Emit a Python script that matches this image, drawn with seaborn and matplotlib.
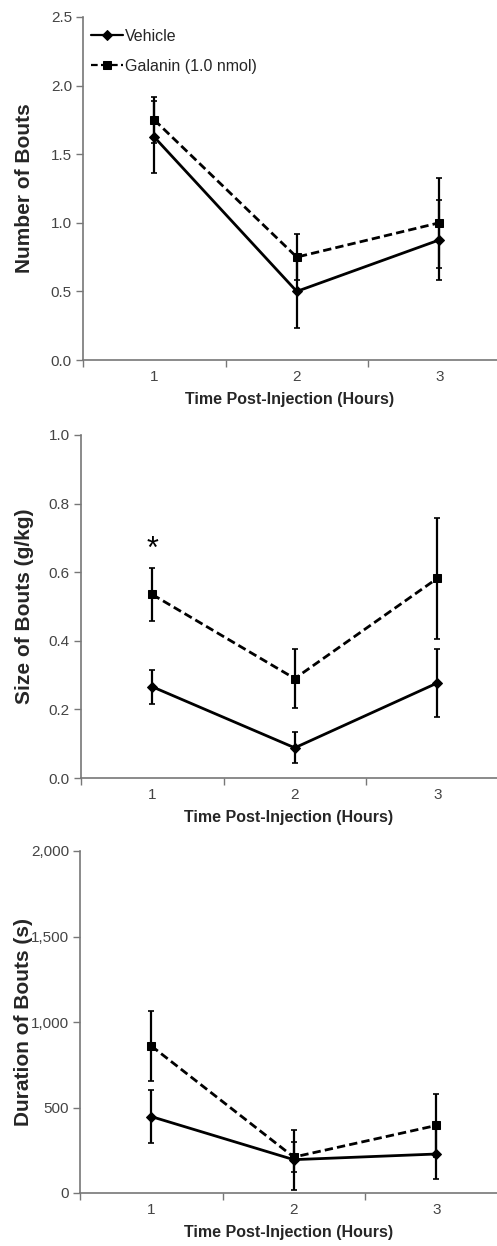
import matplotlib
matplotlib.use("Agg")
import matplotlib.pyplot as plt
import seaborn as sns
import pandas as pd
import numpy as np
from matplotlib.ticker import FixedLocator, FuncFormatter

sns.set_theme(style="white")
plt.rcParams['font.family'] = ['Liberation Sans', 'DejaVu Sans']

hours = [1, 2, 3]
groups = ["Vehicle", "Galanin (1.0 nmol)"]

bouts_vehicle = [1.625, 0.50, 0.875]
bouts_vehicle_err = [0.265, 0.27, 0.29]
bouts_galanin = [1.75, 0.75, 1.00]
bouts_galanin_err = [0.17, 0.17, 0.33]

size_vehicle = [0.266, 0.088, 0.277]
size_vehicle_err = [0.050, 0.045, 0.098]
size_galanin = [0.535, 0.290, 0.582]
size_galanin_err = [0.076, 0.086, 0.176]

dur_vehicle = [447, 195, 228]
dur_vehicle_err = [155, 175, 146]
dur_galanin = [860, 210, 395]
dur_galanin_err = [205, 86, 185]

panels = [
    ("Number of Bouts", bouts_vehicle, bouts_vehicle_err, bouts_galanin, bouts_galanin_err,
     (0, 2.5), np.arange(0, 2.51, 0.5), lambda v, p: f"{v:.1f}"),
    ("Size of Bouts (g/kg)", size_vehicle, size_vehicle_err, size_galanin, size_galanin_err,
     (0, 1.0), np.arange(0, 1.01, 0.2), lambda v, p: f"{v:.1f}"),
    ("Duration of Bouts (s)", dur_vehicle, dur_vehicle_err, dur_galanin, dur_galanin_err,
     (0, 2000), np.arange(0, 2001, 500), lambda v, p: f"{int(v):,}"),
]

W, H = 497, 1246
fig = plt.figure(figsize=(W / 100, H / 100), dpi=100)
boxes = [(83, 17, 360), (81, 435, 778), (80, 851, 1193)]
right_px = 497
ylabel_x_px = [34, 34, 33]

for i, (ylab, v, ve, g, ge, ylim, yt, fmt) in enumerate(panels):
    l, t, b = boxes[i]
    ax = fig.add_axes([l / W, 1 - b / H, (right_px - l) / W, (b - t) / H])
    df = pd.DataFrame({
        "Hour": hours * 2,
        "Value": list(v) + list(g),
        "Group": [groups[0]] * 3 + [groups[1]] * 3,
    })
    sns.lineplot(data=df, x="Hour", y="Value", hue="Group", style="Group",
                 palette=["black", "black"], markers={groups[0]: "D", groups[1]: "s"},
                 dashes={groups[0]: "", groups[1]: (3, 1.5)}, linewidth=2,
                 markersize=6, markeredgecolor="black", ax=ax,
                 legend=(i == 0), errorbar=None)
    ax.errorbar(hours, v, yerr=ve, fmt="none", ecolor="black", elinewidth=1.6, capsize=2.2, capthick=1.2)
    ax.errorbar(hours, g, yerr=ge, fmt="none", ecolor="black", elinewidth=1.6, capsize=2.2, capthick=1.2)
    for line in ax.lines:
        if line.get_marker() == "D":
            line.set_markersize(5)

    ax.set_xlim(0.5, 0.5 + (right_px - l) / 142.5)
    ax.set_ylim(*ylim)
    ax.set_yticks(yt)
    ax.yaxis.set_major_formatter(FuncFormatter(fmt))
    ax.set_xticks(hours)
    ax.xaxis.set_minor_locator(FixedLocator([0.5, 1.5, 2.5, 3.5]))
    ax.tick_params(axis="x", which="major", length=0, pad=7, labelsize=11, labelcolor="#444444")
    ax.tick_params(axis="x", which="minor", length=5, width=1, color="#777777", direction="out", bottom=True)
    ax.tick_params(axis="y", which="major", length=5, width=1, color="#777777", direction="out", left=True,
                   labelsize=11, labelcolor="#444444", pad=3)
    for s in ["top", "right"]:
        ax.spines[s].set_visible(False)
    for s in ["left", "bottom"]:
        ax.spines[s].set_color("#777777")
        ax.spines[s].set_linewidth(1.2)
    ax.set_xlabel("Time Post-Injection (Hours)", fontsize=11.5, fontweight="bold", labelpad=6)
    ax.set_ylabel(ylab, fontsize=15, fontweight="bold")
    ax.yaxis.set_label_coords((ylabel_x_px[i] - l) / (right_px - l), 0.5)

    if i == 0:
        leg = ax.legend(loc="upper left", frameon=False, fontsize=11.5, handlelength=2.0,
                        handletextpad=0.1, borderaxespad=0.0, labelspacing=0.95,
                        bbox_to_anchor=(0.005, 0.985))
        for h in leg.legend_handles:
            h.set_linewidth(1.6)
    if i == 1:
        ax.text(1, 0.665, "*", ha="center", va="center", fontsize=22, color="black")

fig.savefig("out.png", dpi=100)
